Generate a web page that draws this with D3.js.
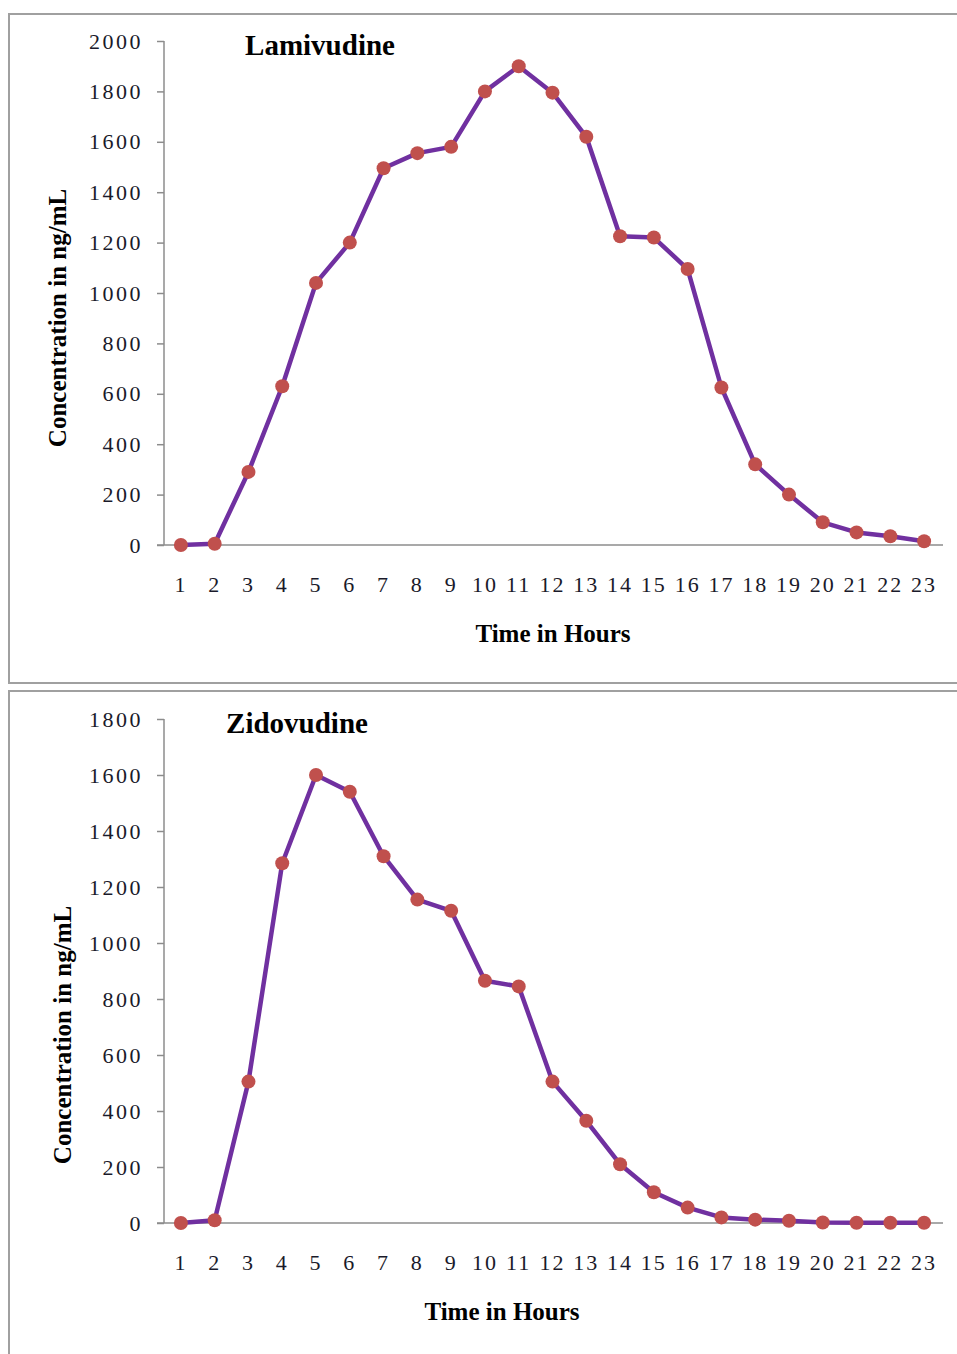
<!DOCTYPE html>
<html>
<head>
<meta charset="utf-8">
<script src="https://cdn.jsdelivr.net/npm/d3@7"></script>
<style>
  body { margin: 0; background: #fff; }
  svg { display: block; font-family: "Liberation Serif", "Times New Roman", serif; }
</style>
</head>
<body>
<svg id="chart" width="957" height="1354"></svg>
<script>
var hours = ["1","2","3","4","5","6","7","8","9","10","11","12","13","14","15","16","17","18","19","20","21","22","23"]

var lamivudine = [0, 5, 290, 630, 1040, 1200, 1495, 1555, 1580, 1800, 1900, 1795, 1620, 1225, 1220, 1095, 625, 320, 200, 90, 50, 35, 15]
var zidovudine = [0, 10, 505, 1285, 1600, 1540, 1310, 1155, 1115, 865, 845, 505, 365, 210, 110, 55, 20, 12, 8, 2, 1, 1, 1]

var lamTicks = [0, 200, 400, 600, 800, 1000, 1200, 1400, 1600, 1800, 2000]
var zidTicks = [0, 200, 400, 600, 800, 1000, 1200, 1400, 1600, 1800]

var lineColor = "#7030a0"
var dotColor = "#c0504d"
var axisColor = "#8c8c8c"

var svg = d3.select("#chart")

// panel frames
svg.append("rect").attr("x", 9).attr("y", 14).attr("width", 960).attr("height", 669)
  .attr("fill", "none").attr("stroke", "#a0a0a0").attr("stroke-width", 2)
svg.append("rect").attr("x", 9).attr("y", 691).attr("width", 960).attr("height", 700)
  .attr("fill", "none").attr("stroke", "#a0a0a0").attr("stroke-width", 2)

function drawPanel(p) {
  var x = d3.scaleBand().domain(hours).range([164, 941])
  var y = d3.scaleLinear().domain([0, p.max]).range([p.bottom, p.top])

  var g = svg.append("g")

  // y axis
  var ya = g.append("g").attr("transform", "translate(164,0)")
    .call(d3.axisLeft(y).tickValues(p.ticks).tickFormat(d3.format("d")).tickSize(7).tickPadding(14))
  ya.select(".domain").attr("stroke", axisColor).attr("stroke-width", 1.5)
    .attr("d", "M0," + p.top + "V" + p.bottom)
  ya.selectAll(".tick line").attr("stroke", axisColor).attr("stroke-width", 1.5)
  ya.selectAll(".tick text").attr("font-size", 22).attr("fill", "#1a1a2a")
    .attr("letter-spacing", 2.5)
    .attr("font-family", "Liberation Serif, serif")

  // x axis
  var xa = g.append("g").attr("transform", "translate(0," + p.bottom + ")")
    .call(d3.axisBottom(x).tickSize(0).tickPadding(31))
  xa.select(".domain").attr("stroke", axisColor).attr("stroke-width", 1.5)
    .attr("d", "M157,0H943")
  xa.selectAll(".tick text").attr("font-size", 22).attr("fill", "#1a1a2a")
    .attr("letter-spacing", 2)
    .attr("font-family", "Liberation Serif, serif")

  // line
  g.append("path").datum(p.values)
    .attr("fill", "none").attr("stroke", lineColor).attr("stroke-width", 4.5)
    .attr("stroke-linejoin", "round")
    .attr("d", d3.line()
      .x(function(d, i) { return x(hours[i]) + x.bandwidth() / 2 })
      .y(function(d) { return y(d) }))

  g.selectAll(".dot").data(p.values).enter().append("circle")
    .attr("cx", function(d, i) { return x(hours[i]) + x.bandwidth() / 2 })
    .attr("cy", function(d) { return y(d) })
    .attr("r", 7)
    .attr("fill", dotColor)

  // titles
  g.append("text").attr("x", p.titleX).attr("y", p.top + 14)
    .attr("text-anchor", "middle").attr("font-size", 29).attr("font-weight", "bold")
    .text(p.title)

  g.append("text").attr("x", p.xTitleX).attr("y", p.bottom + 97)
    .attr("text-anchor", "middle").attr("font-size", 25).attr("font-weight", "bold")
    .text("Time in Hours")

  g.append("text")
    .attr("transform", "translate(" + p.yTitleX + "," + p.yTitleY + ") rotate(-90)")
    .attr("text-anchor", "middle").attr("font-size", 25).attr("font-weight", "bold")
    .text("Concentration in ng/mL")
}

drawPanel({values: lamivudine, ticks: lamTicks, max: 2000, top: 41, bottom: 545,
  title: "Lamivudine", titleX: 320, xTitleX: 553, yTitleX: 66, yTitleY: 318})

drawPanel({values: zidovudine, ticks: zidTicks, max: 1800, top: 719, bottom: 1223,
  title: "Zidovudine", titleX: 297, xTitleX: 502, yTitleX: 71, yTitleY: 1035})
</script>
</body>
</html>
